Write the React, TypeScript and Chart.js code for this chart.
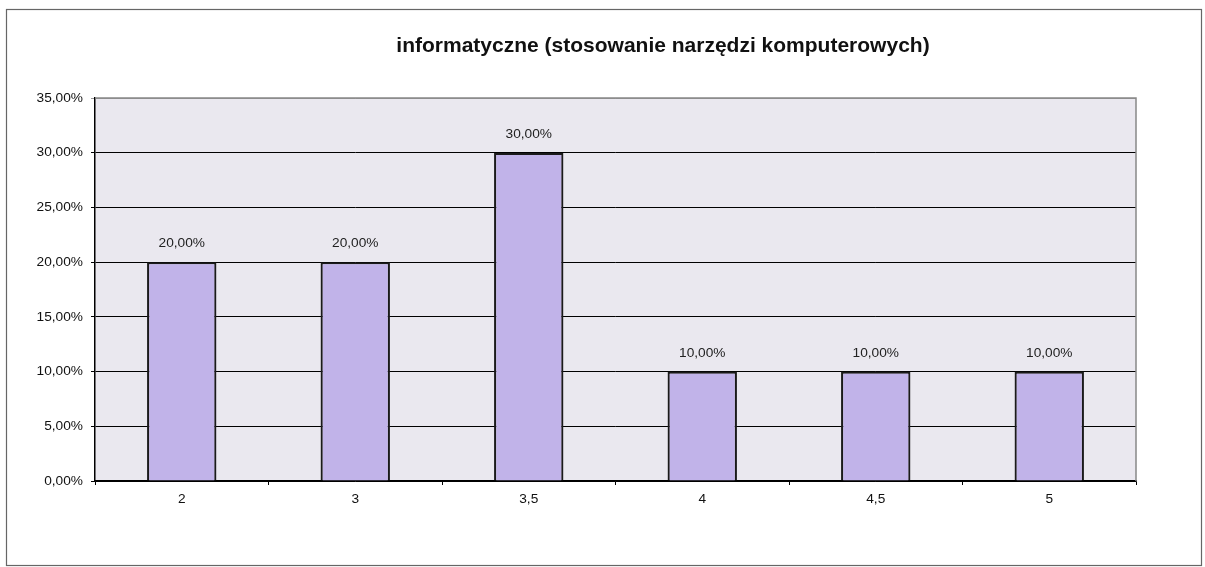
import React, { useEffect, useRef } from "react";
import { Chart, registerables } from "chart.js";

Chart.register(...registerables);

const TITLE = "informatyczne (stosowanie narzędzi komputerowych)";
const categories = ["2", "3", "3,5", "4", "4,5", "5"];
const values = [20, 20, 30, 10, 10, 10];
const yMax = 35;
const yStep = 5;

const FONT = 'Arial, "Liberation Sans", sans-serif';
const fmt = (v: number) => v.toFixed(2).replace(".", ",") + "%";

const framePlugin = {
  id: "frame",
  beforeDraw(chart: any) {
    const { ctx, chartArea } = chart;
    ctx.save();
    ctx.fillStyle = "#ffffff";
    ctx.fillRect(0, 0, chart.width, chart.height);
    ctx.strokeStyle = "#666";
    ctx.lineWidth = 1.2;
    ctx.strokeRect(6.5, 9.5, 1195, 556);
    ctx.fillStyle = "#eae8ef";
    ctx.fillRect(chartArea.left, chartArea.top, chartArea.right - chartArea.left, chartArea.bottom - chartArea.top);
    ctx.fillStyle = "#111";
    ctx.font = `bold 21px ${FONT}`;
    ctx.textAlign = "center";
    ctx.textBaseline = "middle";
    ctx.fillText(TITLE, 663, 46);
    ctx.restore();
  },
  afterDatasetsDraw(chart: any) {
    const { ctx, chartArea } = chart;
    ctx.save();
    ctx.strokeStyle = "#888";
    ctx.lineWidth = 1.5;
    ctx.beginPath();
    ctx.moveTo(chartArea.left, chartArea.top);
    ctx.lineTo(chartArea.right, chartArea.top);
    ctx.lineTo(chartArea.right, chartArea.bottom);
    ctx.stroke();
    const meta = chart.getDatasetMeta(0);
    ctx.fillStyle = "#222";
    ctx.font = `13.7px ${FONT}`;
    ctx.textAlign = "center";
    ctx.textBaseline = "alphabetic";
    meta.data.forEach((bar: any, i: number) => {
      ctx.fillText(fmt(values[i]), bar.x, bar.y - 15);
    });
    ctx.restore();
  },
};

export default function App() {
  const ref = useRef<HTMLCanvasElement>(null);
  useEffect(() => {
    const chart = new Chart(ref.current!, {
      type: "bar",
      data: {
        labels: categories,
        datasets: [
          {
            data: values,
            backgroundColor: "#c1b3e9",
            borderColor: "#1a1a1a",
            borderWidth: 2.2,
            barPercentage: 0.4,
            categoryPercentage: 1,
          },
        ],
      },
      options: {
        responsive: false,
        animation: false,
        layout: { padding: { left: 0, right: 69, top: 98, bottom: 0 } },
        plugins: {
          legend: { display: false },
          tooltip: { enabled: false },
          title: { display: false },
        },
        scales: {
          x: {
            offset: true,
            grid: { display: true, drawOnChartArea: false, offset: true, tickLength: 4, color: "#000" },
            border: { display: true, color: "#000", width: 1.5 },
            ticks: { color: "#111", font: { family: FONT, size: 13.7 }, padding: 6 },
            afterFit: (a: any) => { a.height = 86; },
          },
          y: {
            min: 0,
            max: yMax,
            grid: {
              color: (c: any) => (c.tick && c.tick.value === yMax ? "#999" : "#000"),
              tickLength: 4,
            },
            border: { display: true, color: "#000", width: 1.5 },
            ticks: {
              stepSize: yStep,
              color: "#111",
              font: { family: FONT, size: 13.7 },
              padding: 8,
              callback: (v: any) => fmt(Number(v)),
            },
            afterFit: (a: any) => { a.width = 95; },
          },
        },
      },
      plugins: [framePlugin],
    } as any);
    return () => chart.destroy();
  }, []);
  return (
    <div style={{ position: "absolute", left: 0, top: 0 }}>
      <canvas ref={ref} width={1205} height={567} />
    </div>
  );
}
